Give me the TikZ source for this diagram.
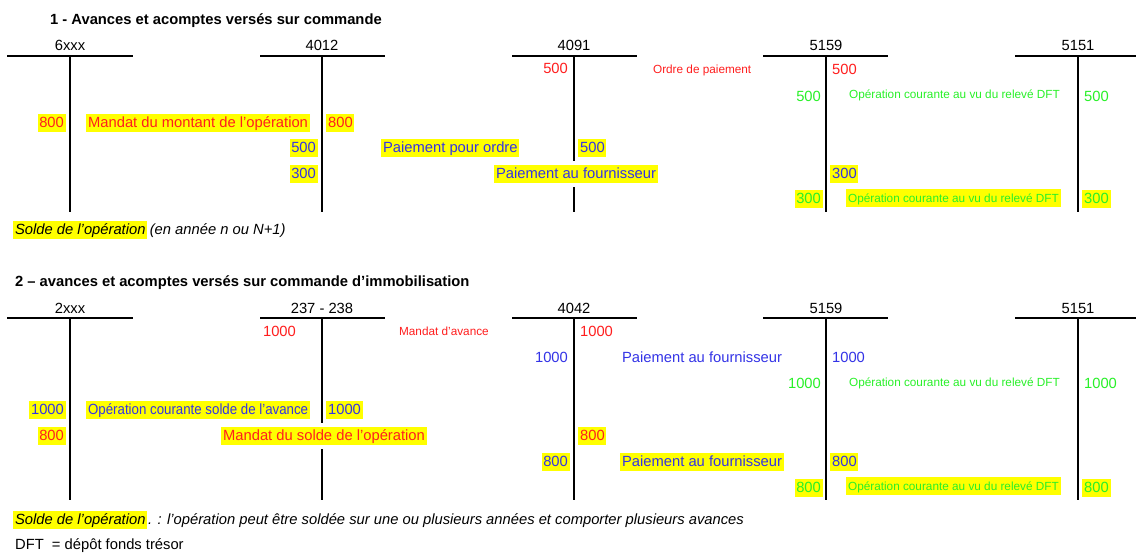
\documentclass[tikz,border=0pt]{standalone}
\usepackage{fontspec}
\setmainfont{Liberation Sans}
\newfontfamily\narrowfont{Liberation Sans}[FakeStretch=0.9]

\definecolor{opred}{RGB}{255,30,30}
\definecolor{opblue}{RGB}{51,51,230}
\definecolor{opgreen}{RGB}{40,240,40}
\definecolor{hlyellow}{RGB}{255,255,0}

\begin{document}
\begin{tikzpicture}[x=0.02cm,y=-0.02cm,
  every node/.style={inner xsep=1pt,inner ysep=0.6pt,text height=0.74em,text depth=0.2em,
    font=\fontsize{8.4}{10}\selectfont},
  small/.style={font=\fontsize{6.7}{8}\selectfont},
  hl/.style={fill=hlyellow},
  rd/.style={text=opred},
  bl/.style={text=opblue},
  gr/.style={text=opgreen},
  lt/.style={anchor=east},
  rt/.style={anchor=west},
  tline/.style={line width=1.1pt}]
\useasboundingbox (0,0) rectangle (1136,552);

% 1 - avances et acomptes
\node[rt,font=\fontsize{8.4}{10}\selectfont\bfseries] (title1) at (48,20) {1 - Avances et acomptes versés sur commande};
\node (c6xxx) at (70,46) {6xxx};
\node (c4012) at (322,46) {4012};
\node (c4091) at (574,46) {4091};
\node (c5159) at (826,46) {5159};
\node (c5151) at (1078,46) {5151};
\draw[tline] (7,56) -- (133,56) (70,56) -- (70,212);
\draw[tline] (260,56) -- (385,56) (322,56) -- (322,212);
\draw[tline] (512,56) -- (637,56) (574,56) -- (574,161) (574,187) -- (574,212);
\draw[tline] (763,56) -- (888,56) (826,56) -- (826,212);
\draw[tline] (1015,56) -- (1136,56) (1078,56) -- (1078,212);

\node[lt,rd] (ordre) at (570,69) {500};
\node[rt,small,rd] (ordretxt) at (651,69) {Ordre de paiement};
\node[rt,rd] (ordre2) at (830,70) {500};
\node[lt,gr] (dft1) at (823,97) {500};
\node[rt,small,gr] (dft1txt) at (847,94) {Opération courante au vu du relevé DFT};
\node[rt,gr] (dft12) at (1082,97) {500};
\node[lt,hl,rd] (mandat) at (66,123) {800};
\node[rt,hl,rd] (mandattxt) at (86,123) {Mandat du montant de l’opération};
\node[rt,hl,rd] (mandat2) at (326,123) {800};
\node[lt,hl,bl] (pordre) at (318,148) {500};
\node[rt,hl,bl] (pordretxt) at (381,148) {Paiement pour ordre};
\node[rt,hl,bl] (pordre2) at (578,148) {500};
\node[lt,hl,bl] (pfour) at (318,174) {300};
\node[rt,hl,bl] (pfourtxt) at (494,174) {Paiement au fournisseur};
\node[rt,hl,bl] (pfour2) at (830,174) {300};
\node[lt,hl,gr] (dft2) at (823,199) {300};
\node[rt,small,hl,gr] (dft2txt) at (846,198) {Opération courante au vu du relevé DFT};
\node[rt,hl,gr] (dft22) at (1082,199) {300};
\node[rt,hl,font=\fontsize{8.4}{10}\selectfont\itshape] (solde1) at (13,230) {Solde de l’opération};
\node[rt,font=\fontsize{8.4}{10}\selectfont\itshape] (solde1txt) at (solde1.east) {(en année n ou N+1)};

% 2 - immobilisation
\node[rt,font=\fontsize{8.4}{10}\selectfont\bfseries] (title2) at (13,282) {2 – avances et acomptes versés sur commande d’immobilisation};
\node (c2xxx) at (70,309) {2xxx};
\node (c237) at (322,309) {237 - 238};
\node (c4042) at (574,309) {4042};
\node (c5159b) at (826,309) {5159};
\node (c5151b) at (1078,309) {5151};
\draw[tline] (7,318) -- (133,318) (70,318) -- (70,500);
\draw[tline] (260,318) -- (385,318) (322,318) -- (322,423) (322,449) -- (322,500);
\draw[tline] (512,318) -- (637,318) (574,318) -- (574,500);
\draw[tline] (763,318) -- (888,318) (826,318) -- (826,500);
\draw[tline] (1015,318) -- (1136,318) (1078,318) -- (1078,500);

\node[lt,rd] (avance) at (298,332) {1000};
\node[rt,small,rd] (avancetxt) at (397,331) {Mandat d’avance};
\node[rt,rd] (avance2) at (578,332) {1000};
\node[lt,bl] (paie) at (570,358) {1000};
\node[rt,bl] (paietxt) at (620,358) {Paiement au fournisseur};
\node[rt,bl] (paie2) at (830,358) {1000};
\node[lt,gr] (dft3) at (823,384) {1000};
\node[rt,small,gr] (dft3txt) at (847,382) {Opération courante au vu du relevé DFT};
\node[rt,gr] (dft32) at (1082,384) {1000};
\node[lt,hl,bl] (sav) at (66,410) {1000};
\node[rt,hl,bl,font=\fontsize{8.4}{10}\narrowfont] (savtxt) at (86,410) {Opération courante solde de l’avance};
\node[rt,hl,bl] (sav2) at (326,410) {1000};
\node[lt,hl,rd] (msolde) at (66,436) {800};
\node[rt,hl,rd] (msoldetxt) at (221,436) {Mandat du solde de l’opération};
\node[rt,hl,rd] (msolde2) at (578,436) {800};
\node[lt,hl,bl] (paieb) at (570,462) {800};
\node[rt,hl,bl] (paiebtxt) at (620,462) {Paiement au fournisseur};
\node[rt,hl,bl] (paieb2) at (830,462) {800};
\node[lt,hl,gr] (dft4) at (823,488) {800};
\node[rt,small,hl,gr] (dft4txt) at (846,486) {Opération courante au vu du relevé DFT};
\node[rt,hl,gr] (dft42) at (1082,488) {800};
\node[rt,hl,font=\fontsize{8.4}{10}\selectfont\itshape] (solde2) at (13,520) {Solde de l’opération};
\node[rt,inner xsep=0pt,font=\fontsize{8.4}{10}\selectfont\itshape] (solde2txt) at (solde2.east) {. : l’opération peut être soldée sur une ou plusieurs années et comporter plusieurs avances};
\node[rt] (dftnote) at (13,545) {DFT~ = dépôt fonds trésor};
\end{tikzpicture}
\end{document}
